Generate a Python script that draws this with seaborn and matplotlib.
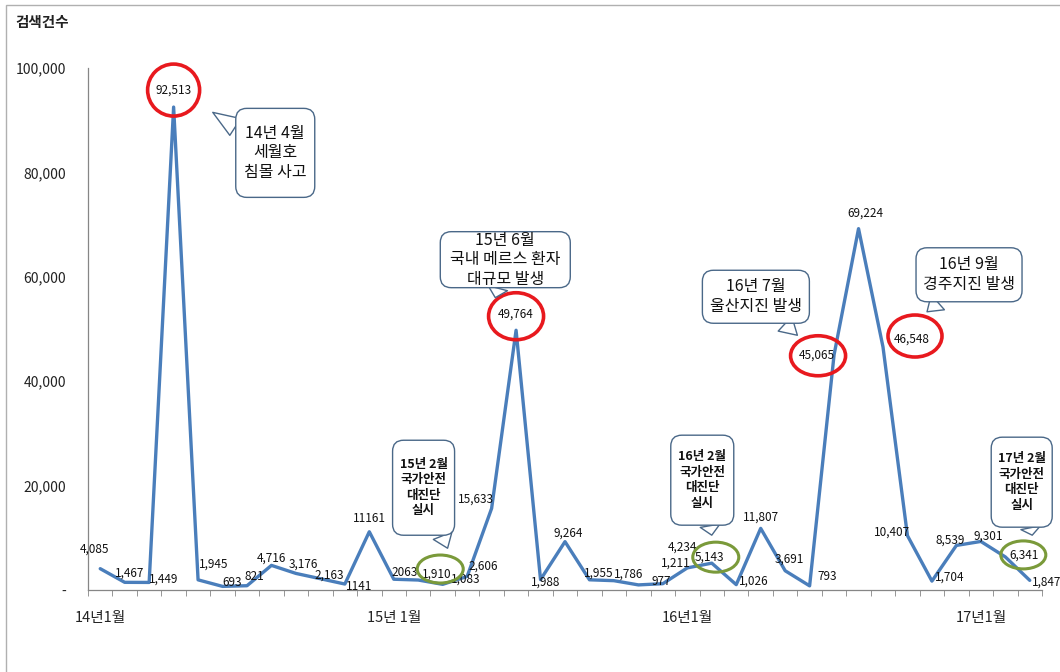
import numpy as np
import pandas as pd
import matplotlib
matplotlib.use("Agg")
import matplotlib.pyplot as plt
import matplotlib.transforms as mtransforms
from matplotlib.patches import Ellipse, Rectangle, FancyBboxPatch, FancyArrowPatch
import seaborn as sns

# 스타일
sns.set_style("white")
plt.rcParams["font.family"] = ["Noto Sans CJK KR", "DejaVu Sans"]
plt.rcParams["axes.unicode_minus"] = False

# 데이터: 14년 1월 ~ 17년 3월 월별 검색건수
months = pd.period_range("2014-01", "2017-03", freq="M")
counts = [4085, 1467, 1449, 92513, 1945, 693, 821, 4716, 3176, 2163, 1141, 11161,
          2063, 1910, 1083, 2606, 15633, 49764, 1988, 9264, 1955, 1786, 977, 1211,
          4234, 5143, 1026, 11807, 3691, 793, 45065, 69224, 46548, 10407, 1704, 8539,
          9301, 6341, 1847]
no_comma_idx = [10, 11, 12]          # 원본에서 콤마 없이 표시된 값
tick_idx = [0, 12, 24, 36]
tick_labels = ["14년1월", "15년 1월", "16년1월", "17년1월"]
yticks = [0, 20000, 40000, 60000, 80000, 100000]

# 강조 (빨강: 사고 발생, 초록: 국가안전대진단)
red_idx = [3, 17, 30, 32]
green_idx = [13, 25, 37]

callout_texts = ["14년 4월\n세월호\n침몰 사고",
                 "15년 6월\n국내 메르스 환자\n대규모 발생",
                 "16년 7월\n울산지진 발생",
                 "16년 9월\n경주지진 발생",
                 "15년 2월\n국가안전\n대진단\n실시",
                 "16년 2월\n국가안전\n대진단\n실시",
                 "17년 2월\n국가안전\n대진단\n실시"]
callout_bold = [False, False, False, False, True, True, True]

# 레이블 위치 (픽셀 오프셋)
label_off = [(-6, 20), (5, 9), (14, 3), (0, 17), (16, 16), (10, 4), (7, 9), (0, 7),
             (7, 9), (9, 4), (14, -2), (0, 13), (11, 7), (19, 6), (23, 5), (16, 10),
             (-16, 9), (0, 16), (5, -3), (3, 9), (9, 7), (15, 7), (23, 3), (13, 21),
             (-5, 21), (-2, 6), (18, 4), (0, 11), (4, 12), (18, 9), (-17, 0), (7, 16),
             (29, 8), (-15, 4), (18, 4), (-6, 5), (7, 5), (19, 2), (17, -2)]
ell_size = {3: (52, 52), 17: (55, 47), 30: (55, 40), 32: (54, 42),
            13: (46, 28), 25: (46, 30), 37: (45, 28)}
ell_off = {3: (0, 17), 17: (0, 14), 30: (-16, -1), 32: (32, 11),
           13: (22, 11), 25: (4, 6), 37: (18, 2)}
# 말풍선: 꼬리 끝(데이터 좌표), 상자 중심 오프셋과 크기(픽셀)
callout_tip = [(4.6, 91500), (16.15, 56000), (28.5, 48800), (33.8, 53300),
               (14.2, 8000), (25.0, 10500), (38.1, 10500)]
callout_off = [(62.5, -40.5), (10, 38), (-41.5, 38.5), (42, 37),
               (-24, 60.5), (-9.5, 55), (-10.5, 53)]
callout_size = [(79, 89), (130, 56), (107, 53), (106, 54), (62, 95), (63, 90), (61, 90)]

line_color = "#4A7EBB"
axis_gray = "#868686"
box_edge = "#4a6888"

df = pd.DataFrame({"idx": np.arange(len(months)), "count": counts})

fig = plt.figure(figsize=(10.6, 6.72), dpi=100)
ax = fig.add_axes([88 / 1060, 82 / 672, 954 / 1060, 522 / 672])

sns.lineplot(data=df, x="idx", y="count", ax=ax, color=line_color, linewidth=2.4)

ax.set_xlim(-0.5, len(months) - 0.5)
ax.set_ylim(0, 100000)
ax.set_xlabel("")
ax.set_ylabel("")

# 축
for s in ["top", "right"]:
    ax.spines[s].set_visible(False)
for s in ["left", "bottom"]:
    ax.spines[s].set_color(axis_gray)
    ax.spines[s].set_linewidth(0.9)

ax.set_yticks(yticks)
ax.set_yticklabels(["-" if v == 0 else f"{v:,}" for v in yticks])
ax.tick_params(axis="y", length=4, color=axis_gray, pad=12, labelsize=10, labelcolor="#222222")
ax.set_xticks(tick_idx)
ax.set_xticklabels(tick_labels)
ax.set_xticks(np.arange(-0.5, len(months), 1), minor=True)
ax.tick_params(axis="x", which="major", length=0, pad=15, labelsize=10.5, labelcolor="#222222")
ax.tick_params(axis="x", which="minor", length=4, color=axis_gray, bottom=True)

# 데이터 레이블
for i, v in enumerate(counts):
    txt = str(v) if i in no_comma_idx else f"{v:,}"
    ax.annotate(txt, (i, v), xytext=label_off[i], textcoords="offset pixels",
                ha="center", va="center", fontsize=8.5, color="#111111", zorder=5)

# 강조 원
for i in red_idx + green_idx:
    col = "#E8191E" if i in red_idx else "#7A9A3A"
    w, h = ell_size[i]
    trans = mtransforms.ScaledTranslation(i, counts[i], ax.transData)
    e = Ellipse(ell_off[i], w, h, transform=trans, fill=False, ec=col,
                lw=2.6 if i in red_idx else 2.2, clip_on=False, zorder=6)
    ax.add_patch(e)

# 말풍선
for t, tip, off, size, bold in zip(callout_texts, callout_tip, callout_off,
                                   callout_size, callout_bold):
    trans = mtransforms.ScaledTranslation(tip[0], tip[1], ax.transData)
    cx, cy = off
    w, h = size
    box = FancyBboxPatch((cx - w / 2, cy - h / 2), w, h,
                         boxstyle="round,pad=0,rounding_size=11", transform=trans,
                         fc="white", ec=box_edge, lw=1, clip_on=False, zorder=7)
    ax.add_patch(box)
    tail = FancyArrowPatch(posA=(cx, cy), posB=(0, 0), transform=trans, patchA=box,
                           arrowstyle="wedge,tail_width=1.2,shrink_factor=0.5",
                           mutation_scale=12, shrinkA=0, shrinkB=0,
                           fc="white", ec=box_edge, lw=1, clip_on=False, zorder=6.9)
    ax.add_patch(tail)
    ax.text(cx, cy, t, transform=trans, ha="center", va="center",
            fontsize=9 if bold else 11.5, fontweight="bold" if bold else "normal",
            linespacing=1.25 if bold else 1.2, color="#111111", zorder=8)

# 제목 및 테두리
fig.text(15 / 1060, 1 - 22 / 672, "검색건수", fontsize=10.5, fontweight="bold",
         ha="left", va="center", color="#222222")
fig.add_artist(Rectangle((6 / 1060, -0.05), 1.2, 1.05 - 5 / 672, transform=fig.transFigure,
                         fill=False, ec="#b0b0b0", lw=1))

fig.savefig("out.png", dpi=100)
